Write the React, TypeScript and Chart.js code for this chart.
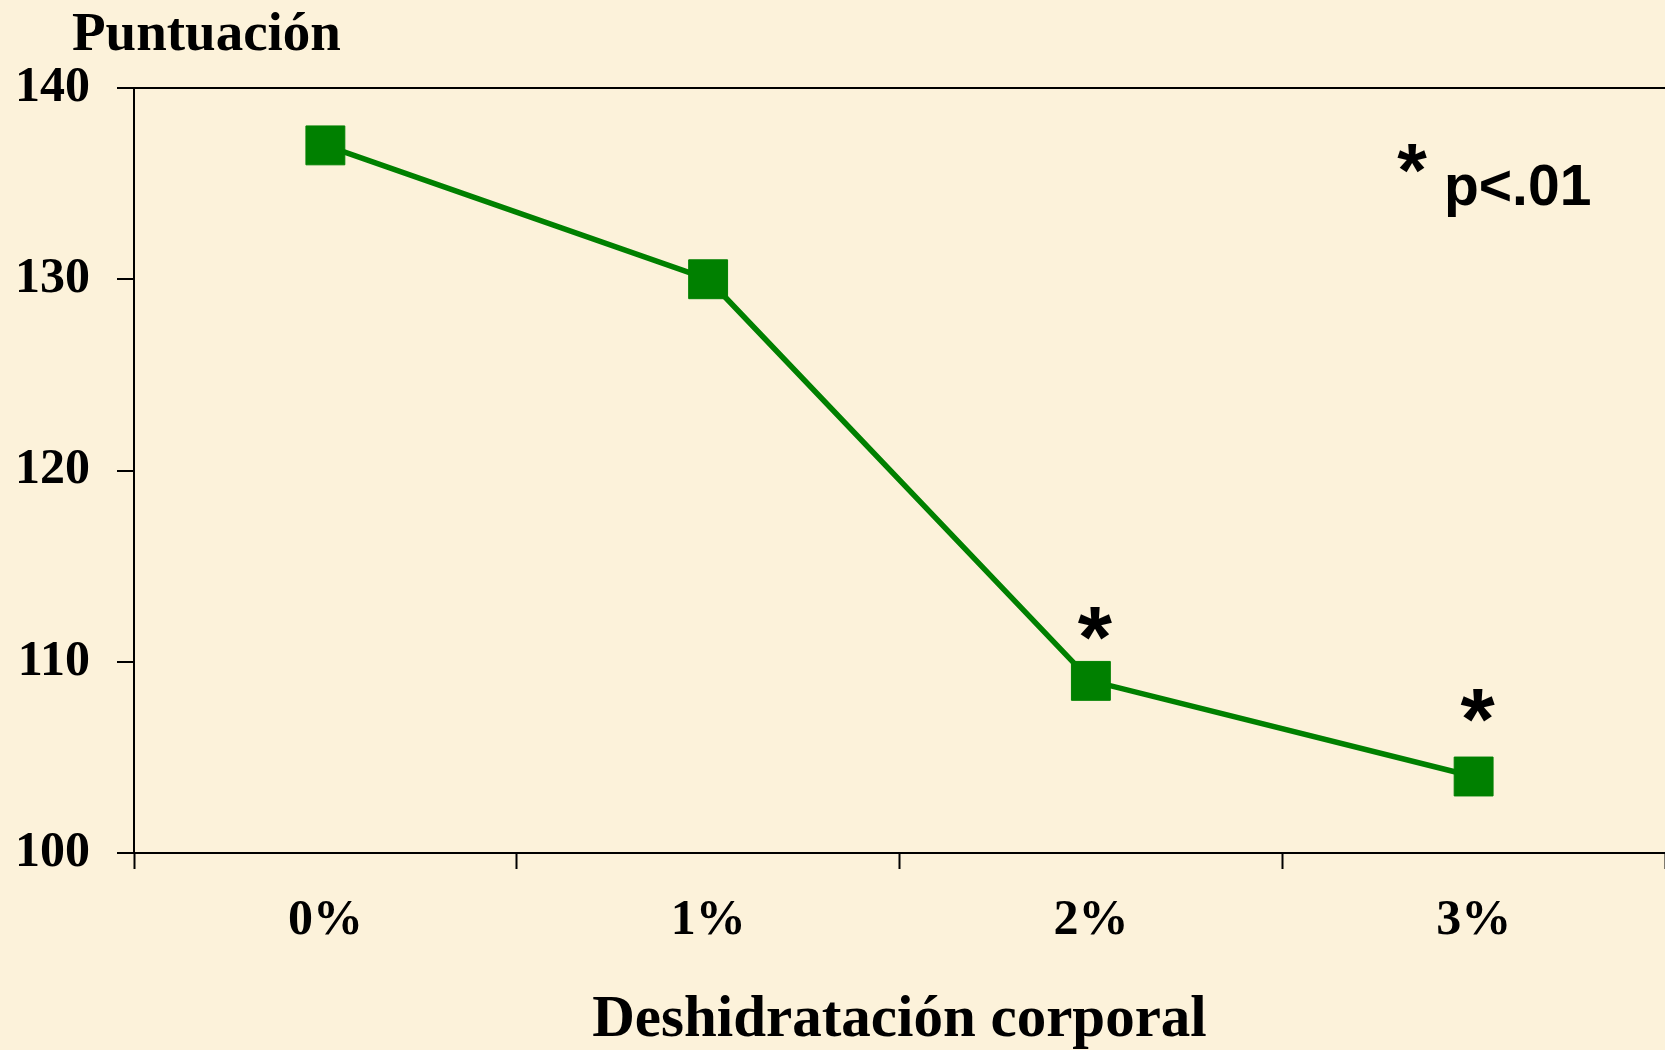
import React, { useEffect, useRef } from "react";
import { Chart, registerables } from "chart.js";

Chart.register(...registerables);

const categories = ["0%", "1%", "2%", "3%"];
const scores = [137, 130, 109, 104];
const yTickValues = [100, 110, 120, 130, 140];
// y value (in score units) at which the significance asterisk is centred; null = none
const starLevels: (number | null)[] = [null, null, 112.0, 107.7];
const yTitle = "Puntuación";
const xTitle = "Deshidratación corporal";
const noteStar = "*";
const noteText = "p<.01";

const SERIF = "'Times New Roman', 'Liberation Serif', serif";
const SANS = "Arial, 'Liberation Sans', sans-serif";
const BG = "#FCF2DA";
const GREEN = "#008000";

function drawCentered(ctx: CanvasRenderingContext2D, text: string, cx: number, cy: number) {
  const m = ctx.measureText(text);
  const asc = m.actualBoundingBoxAscent;
  const desc = m.actualBoundingBoxDescent;
  ctx.fillText(text, cx, cy + (asc - desc) / 2);
}

const annotationPlugin = {
  id: "annotations",
  afterDatasetsDraw(chart: any) {
    const ctx: CanvasRenderingContext2D = chart.ctx;
    const xs = chart.scales.x;
    const ys = chart.scales.y;
    const area = chart.chartArea;
    ctx.save();
    ctx.fillStyle = "#000";
    // significance asterisks above points
    ctx.font = `bold 88px ${SANS}`;
    ctx.textAlign = "center";
    ctx.textBaseline = "alphabetic";
    starLevels.forEach((v, i) => {
      if (v == null) return;
      drawCentered(ctx, "*", xs.getPixelForValue(i) + 4, ys.getPixelForValue(v));
    });
    // y axis title
    ctx.font = `bold 55px ${SERIF}`;
    ctx.textAlign = "left";
    ctx.fillText(yTitle, 72, 50);
    // note
    ctx.font = `bold 76px ${SANS}`;
    ctx.textAlign = "center";
    drawCentered(ctx, noteStar, area.right - 253, area.top + 70);
    ctx.textAlign = "left";
    ctx.font = `bold 57px ${SANS}`;
    ctx.fillText(noteText, area.right - 221, area.top + 117);
    ctx.restore();
  },
};

export default function App() {
  const canvasRef = useRef<HTMLCanvasElement | null>(null);

  useEffect(() => {
    document.body.style.margin = "0";
    const canvas = canvasRef.current;
    if (!canvas) return;
    const chart = new Chart(canvas, {
      type: "line",
      data: {
        labels: categories,
        datasets: [
          {
            data: scores,
            borderColor: GREEN,
            backgroundColor: GREEN,
            borderWidth: 5.5,
            pointStyle: "rect",
            pointRadius: 27.5,
            pointBorderWidth: 1,
            pointBorderColor: GREEN,
            pointBackgroundColor: GREEN,
            tension: 0,
          },
        ],
      },
      options: {
        responsive: false,
        animation: false,
        devicePixelRatio: 1,
        layout: { autoPadding: false, padding: { top: 88, left: 0, right: 0, bottom: 0 } },
        plugins: {
          legend: { display: false },
          tooltip: { enabled: false },
          title: { display: false },
        },
        scales: {
          x: {
            offset: true,
            grid: {
              offset: true,
              drawOnChartArea: false,
              tickLength: 16,
              tickColor: "#000",
              tickWidth: 2,
            },
            border: { display: true, color: "#000", width: 2 },
            ticks: {
              color: "#000",
              padding: 22,
              font: { family: SERIF, size: 50, weight: "bold" },
            },
            title: {
              display: true,
              text: xTitle,
              color: "#000",
              font: { family: SERIF, size: 59, weight: "bold", lineHeight: 1 },
              padding: { top: 0, bottom: 0 },
            },
            afterFit: (scale: any) => {
              scale.height = 197;
            },
          },
          y: {
            min: 100,
            max: 140,
            afterBuildTicks: (scale: any) => {
              scale.ticks = yTickValues.map((v) => ({ value: v }));
            },
            grid: {
              drawOnChartArea: true,
              color: (c: any) => (c.tick && c.tick.value === 140 ? "#000" : "rgba(0,0,0,0)"),
              lineWidth: 2,
              tickLength: 17,
              tickColor: "#000",
              tickWidth: 2,
            },
            border: { display: true, color: "#000", width: 2 },
            ticks: {
              color: "#000",
              padding: 27,
              font: { family: SERIF, size: 50, weight: "bold" },
            },
            afterFit: (scale: any) => {
              scale.width = 134;
            },
          },
        },
      },
      plugins: [annotationPlugin],
    } as any);
    return () => chart.destroy();
  }, []);

  return (
    <div
      style={{
        position: "absolute",
        left: 0,
        top: 0,
        width: 1665,
        height: 1050,
        background: BG,
        overflow: "hidden",
      }}
    >
      <canvas ref={canvasRef} width={1665} height={1050} style={{ display: "block" }} />
    </div>
  );
}
